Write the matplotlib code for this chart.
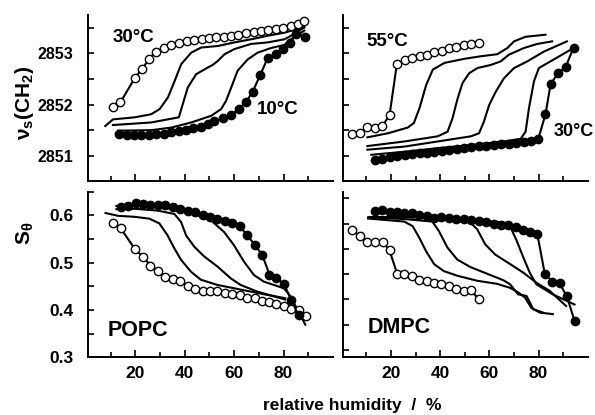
import matplotlib.pyplot as plt
import numpy as np

plt.rcParams['font.family'] = ['Liberation Sans', 'DejaVu Sans']
plt.rcParams['font.weight'] = 'bold'
plt.rcParams['mathtext.fontset'] = 'custom'
plt.rcParams['mathtext.rm'] = 'Liberation Sans:bold'
plt.rcParams['mathtext.it'] = 'Liberation Sans:bold'
plt.rcParams['mathtext.bf'] = 'Liberation Sans:bold'

# ---- POPC, CH2 stretching frequency ----
popc_nu_open_x = [10.9, 13.9, 19.7, 22.8, 25.5, 28.2, 31.4, 34.5, 37.6, 40.8, 43.9, 46.9, 49.7,
                  52.7, 55.7, 58.8, 61.7, 64.8, 67.9, 70.9, 73.8, 76.9, 79.9, 83.0, 85.7, 88.4]
popc_nu_open_y = [2851.95, 2852.04, 2852.51, 2852.70, 2852.88, 2853.03, 2853.10, 2853.16, 2853.20,
                  2853.24, 2853.26, 2853.27, 2853.29, 2853.31, 2853.32, 2853.34, 2853.36, 2853.39,
                  2853.41, 2853.44, 2853.46, 2853.48, 2853.50, 2853.53, 2853.56, 2853.63]
popc_nu_full_x = [13.4, 16.4, 19.4, 22.4, 25.5, 28.4, 31.4, 34.4, 37.5, 40.5, 43.5, 46.6, 49.3,
                  52.0, 55.4, 58.8, 61.9, 64.8, 67.5, 70.5, 73.6, 76.9, 79.6, 82.6, 85.0, 88.8]
popc_nu_full_y = [2851.42, 2851.41, 2851.41, 2851.41, 2851.41, 2851.42, 2851.43, 2851.46, 2851.49,
                  2851.51, 2851.54, 2851.57, 2851.62, 2851.67, 2851.73, 2851.80, 2851.91, 2852.05,
                  2852.25, 2852.57, 2852.91, 2852.99, 2853.08, 2853.19, 2853.37, 2853.32]
popc_nu_l1_x = [7.8, 10.9, 19.7, 26.4, 29.8, 33.2, 35.9, 38.6, 42.6, 46.6, 53.4, 60.1, 66.8, 73.6, 80.3, 85.7, 88.4]
popc_nu_l1_y = [2851.58, 2851.71, 2851.75, 2851.81, 2851.91, 2852.14, 2852.46, 2852.79, 2853.01,
                2853.11, 2853.14, 2853.21, 2853.27, 2853.34, 2853.40, 2853.47, 2853.53]
popc_nu_l2_x = [10.9, 26.4, 37.6, 39.2, 41.2, 44.6, 49.3, 51.3, 53.4, 56.1, 60.1, 66.8, 73.6, 80.3, 82.3, 88.4]
popc_nu_l2_y = [2851.60, 2851.65, 2851.75, 2852.01, 2852.33, 2852.59, 2852.72, 2852.77, 2852.85,
                2852.98, 2853.08, 2853.18, 2853.21, 2853.27, 2853.32, 2853.50]
popc_nu_l3_x = [13.0, 26.4, 34.5, 42.6, 50.7, 54.7, 56.7, 58.8, 61.4, 65.5, 69.5, 74.9, 80.3, 83.0, 88.4]
popc_nu_l3_y = [2851.49, 2851.50, 2851.55, 2851.65, 2851.78, 2851.91, 2852.07, 2852.33, 2852.66,
                2852.88, 2853.01, 2853.10, 2853.16, 2853.27, 2853.44]

# ---- DMPC, CH2 stretching frequency ----
dmpc_nu_open_x = [4.2, 7.3, 10.4, 13.4, 16.5, 19.4, 22.4, 25.5, 28.5, 31.6, 34.5, 37.6, 40.6,
                  43.4, 46.4, 49.5, 52.5, 55.6]
dmpc_nu_open_y = [2851.42, 2851.45, 2851.56, 2851.54, 2851.58, 2851.79, 2852.79, 2852.87, 2852.90,
                  2852.94, 2852.97, 2853.02, 2853.05, 2853.10, 2853.12, 2853.15, 2853.17, 2853.19]
dmpc_nu_full_x = [13.4, 16.5, 19.4, 22.4, 25.5, 28.5, 31.6, 34.5, 37.6, 40.6, 43.7, 46.7, 49.8, 52.7,
                  55.8, 58.8, 61.9, 64.9, 68.0, 70.9, 74.0, 77.0, 79.8, 82.8, 84.9, 87.9, 91.0, 94.2]
dmpc_nu_full_y = [2850.92, 2850.94, 2850.97, 2850.99, 2851.01, 2851.03, 2851.05, 2851.06, 2851.08,
                  2851.10, 2851.12, 2851.14, 2851.16, 2851.17, 2851.19, 2851.20, 2851.21, 2851.23,
                  2851.24, 2851.25, 2851.27, 2851.28, 2851.32, 2851.81, 2852.40, 2852.61, 2852.73, 2853.11]
dmpc_nu_l1_x = [10.4, 18.8, 26.8, 29.3, 31.6, 34.3, 37.0, 41.7, 49.8, 56.5, 63.2, 67.3, 70.0, 74.7, 82.8]
dmpc_nu_l1_y = [2851.36, 2851.44, 2851.55, 2851.64, 2851.93, 2852.38, 2852.68, 2852.81, 2852.89,
                2852.94, 2852.98, 2853.10, 2853.23, 2853.32, 2853.36]
dmpc_nu_l2_x = [10.4, 25.5, 39.0, 43.0, 45.0, 47.1, 49.1, 51.8, 55.1, 60.5, 64.6, 67.9, 74.0, 79.4, 85.5]
dmpc_nu_l2_y = [2851.19, 2851.28, 2851.38, 2851.47, 2851.73, 2852.12, 2852.42, 2852.61, 2852.71,
                2852.77, 2852.84, 2852.97, 2853.10, 2853.18, 2853.23]
dmpc_nu_l3_x = [10.4, 25.5, 39.0, 52.5, 55.8, 57.8, 59.9, 62.6, 65.9, 70.0, 75.4, 82.1, 91.5]
dmpc_nu_l3_y = [2851.12, 2851.18, 2851.28, 2851.38, 2851.44, 2851.67, 2851.99, 2852.25, 2852.51,
                2852.71, 2852.84, 2853.03, 2853.23]
dmpc_nu_l4_x = [12.0, 25.5, 39.0, 52.5, 65.9, 72.7, 74.7, 76.1, 78.1, 80.1, 84.8, 94.2]
dmpc_nu_l4_y = [2851.02, 2851.08, 2851.15, 2851.21, 2851.28, 2851.33, 2851.47, 2851.93, 2852.45,
                2852.71, 2852.84, 2853.10]

# ---- POPC, order parameter ----
popc_s_open_x = [10.9, 14.0, 19.9, 23.0, 26.1, 29.1, 32.1, 35.1, 38.2, 41.1, 44.1, 47.2, 50.1,
                 53.2, 56.2, 59.3, 62.2, 65.3, 68.3, 71.3, 74.3, 77.1, 80.1, 83.0, 86.1, 89.1]
popc_s_open_y = [0.583, 0.573, 0.528, 0.513, 0.494, 0.483, 0.469, 0.465, 0.462, 0.450, 0.444, 0.441,
                 0.441, 0.441, 0.437, 0.434, 0.432, 0.425, 0.425, 0.420, 0.417, 0.413, 0.409, 0.402,
                 0.399, 0.388]
popc_s_full_x = [14.0, 17.0, 20.1, 23.0, 26.0, 29.1, 32.1, 35.1, 38.2, 41.1, 44.2, 47.2, 50.3,
                 53.2, 56.2, 59.3, 62.2, 65.3, 68.3, 71.3, 74.3, 77.1, 80.1, 83.0, 86.1]
popc_s_full_y = [0.617, 0.620, 0.627, 0.624, 0.622, 0.622, 0.623, 0.617, 0.614, 0.610, 0.607, 0.601,
                 0.597, 0.593, 0.588, 0.584, 0.577, 0.558, 0.538, 0.517, 0.475, 0.467, 0.456, 0.422,
                 0.389]
popc_s_l1_x = [7.9, 13.0, 19.7, 25.7, 29.7, 33.0, 35.8, 38.5, 42.5, 46.5, 53.2, 59.9, 66.6, 73.4, 80.7]
popc_s_l1_y = [0.605, 0.599, 0.597, 0.593, 0.583, 0.558, 0.530, 0.506, 0.481, 0.464, 0.453, 0.446,
               0.439, 0.432, 0.425]
popc_s_l2_x = [12.3, 19.7, 29.1, 35.8, 38.5, 40.5, 43.8, 47.9, 53.2, 58.6, 62.6, 69.3, 80.7]
popc_s_l2_y = [0.613, 0.614, 0.610, 0.603, 0.586, 0.558, 0.534, 0.513, 0.492, 0.467, 0.453, 0.439, 0.422]
popc_s_l3_x = [12.3, 19.7, 33.1, 43.8, 50.5, 55.9, 59.9, 64.0, 68.0, 72.0, 80.1, 82.8, 88.8]
popc_s_l3_y = [0.620, 0.621, 0.615, 0.603, 0.590, 0.565, 0.537, 0.502, 0.474, 0.460, 0.446, 0.429, 0.369]

# ---- DMPC, order parameter ----
dmpc_s_open_x = [4.2, 7.3, 10.4, 13.6, 16.7, 19.4, 22.5, 25.4, 28.4, 31.5, 34.6, 37.5, 40.5,
                 43.6, 46.6, 49.6, 52.7, 55.6]
dmpc_s_open_y = [0.587, 0.576, 0.564, 0.564, 0.564, 0.547, 0.501, 0.500, 0.497, 0.488, 0.487, 0.482,
                 0.480, 0.477, 0.471, 0.467, 0.468, 0.450]
dmpc_s_full_x = [13.4, 16.4, 19.4, 22.5, 25.4, 28.4, 31.5, 34.6, 37.5, 40.5, 43.6, 46.6, 49.6, 52.7,
                 55.6, 58.6, 61.7, 64.6, 67.7, 70.7, 73.8, 76.7, 79.5, 82.5, 85.6, 88.5, 91.5, 94.6]
dmpc_s_full_y = [0.624, 0.626, 0.622, 0.622, 0.620, 0.620, 0.617, 0.615, 0.612, 0.614, 0.612, 0.610,
                 0.610, 0.607, 0.605, 0.603, 0.600, 0.597, 0.597, 0.593, 0.587, 0.584, 0.579, 0.501,
                 0.485, 0.482, 0.456, 0.408]
dmpc_s_l1_x = [10.7, 25.4, 28.8, 31.5, 34.2, 37.5, 41.5, 46.9, 55.0, 63.0, 68.4, 71.7, 74.4, 77.1, 80.5, 85.8]
dmpc_s_l1_y = [0.610, 0.604, 0.595, 0.572, 0.546, 0.520, 0.506, 0.497, 0.487, 0.481, 0.473, 0.464,
               0.454, 0.433, 0.424, 0.421]
dmpc_s_l2_x = [10.7, 25.4, 36.8, 39.5, 42.9, 46.9, 52.3, 59.0, 65.7, 68.4, 71.7, 75.1, 77.8, 81.8]
dmpc_s_l2_y = [0.612, 0.609, 0.604, 0.585, 0.553, 0.529, 0.514, 0.501, 0.488, 0.480, 0.460, 0.457,
               0.431, 0.424]
dmpc_s_l3_x = [10.7, 32.1, 52.3, 55.0, 58.3, 62.3, 68.4, 73.8, 79.1, 84.5, 91.2]
dmpc_s_l3_y = [0.612, 0.612, 0.602, 0.589, 0.559, 0.539, 0.520, 0.503, 0.483, 0.467, 0.437]
dmpc_s_l4_x = [11.3, 38.9, 65.7, 68.4, 71.1, 73.8, 76.4, 79.1, 85.8, 94.6]
dmpc_s_l4_y = [0.613, 0.613, 0.602, 0.595, 0.566, 0.533, 0.503, 0.480, 0.460, 0.440]

fig = plt.figure(figsize=(5.95, 4.15), dpi=100)
ax_tl = fig.add_axes([0.1487, 0.5627, 0.4109, 0.4019])
ax_tr = fig.add_axes([0.5765, 0.5627, 0.4114, 0.4019])
ax_bl = fig.add_axes([0.1487, 0.1390, 0.4109, 0.3990])
ax_br = fig.add_axes([0.5765, 0.1390, 0.4114, 0.3990])


def draw_panel(ax, lines, open_xy, full_xy):
    for lx, ly in lines:
        ax.plot(lx, ly, color='black', lw=1.5)
    ax.plot(open_xy[0], open_xy[1], color='black', lw=1.5, marker='o', ms=6,
            mfc='white', mec='black', mew=1.0)
    ax.plot(full_xy[0], full_xy[1], color='black', lw=1.5, marker='o', ms=6,
            mfc='black', mec='black', mew=1.0)


draw_panel(ax_tl, [(popc_nu_l1_x, popc_nu_l1_y), (popc_nu_l2_x, popc_nu_l2_y), (popc_nu_l3_x, popc_nu_l3_y)],
           (popc_nu_open_x, popc_nu_open_y), (popc_nu_full_x, popc_nu_full_y))
draw_panel(ax_tr, [(dmpc_nu_l1_x, dmpc_nu_l1_y), (dmpc_nu_l2_x, dmpc_nu_l2_y), (dmpc_nu_l3_x, dmpc_nu_l3_y),
                   (dmpc_nu_l4_x, dmpc_nu_l4_y)],
           (dmpc_nu_open_x, dmpc_nu_open_y), (dmpc_nu_full_x, dmpc_nu_full_y))
draw_panel(ax_bl, [(popc_s_l1_x, popc_s_l1_y), (popc_s_l2_x, popc_s_l2_y), (popc_s_l3_x, popc_s_l3_y)],
           (popc_s_open_x, popc_s_open_y), (popc_s_full_x, popc_s_full_y))
draw_panel(ax_br, [(dmpc_s_l1_x, dmpc_s_l1_y), (dmpc_s_l2_x, dmpc_s_l2_y), (dmpc_s_l3_x, dmpc_s_l3_y),
                   (dmpc_s_l4_x, dmpc_s_l4_y)],
           (dmpc_s_open_x, dmpc_s_open_y), (dmpc_s_full_x, dmpc_s_full_y))

# axes limits (left column starts a bit later than right one)
ax_tl.set_xlim(1, 100)
ax_bl.set_xlim(1, 100)
ax_tr.set_xlim(0.5, 100)
ax_br.set_xlim(0.5, 100)
ax_tl.set_ylim(2850.5, 2853.75)
ax_tr.set_ylim(2850.5, 2853.75)
ax_bl.set_ylim(0.3, 0.65)
ax_br.set_ylim(0.3356, 0.663)

for ax in [ax_tl, ax_tr, ax_bl, ax_br]:
    ax.spines['top'].set_visible(False)
    ax.spines['right'].set_visible(False)
    ax.spines['left'].set_linewidth(1.4)
    ax.spines['bottom'].set_linewidth(1.4)
    ax.set_xticks([20, 40, 60, 80])
    ax.set_xticks([10, 30, 50, 70, 90], minor=True)
    ax.tick_params(which='major', direction='in', length=5, width=1.2, labelsize=12.5, pad=6)
    ax.tick_params(which='minor', direction='in', length=3.5, width=1.2)
    ax.tick_params(axis='y', which='major', length=4)
    ax.tick_params(axis='y', which='minor', length=4)

for ax in [ax_tl, ax_tr]:
    ax.set_yticks([2851, 2852, 2853])
    ax.set_yticks([2851.5, 2852.5, 2853.5], minor=True)
    ax.tick_params(axis='x', labelbottom=False)
ax_tl.tick_params(axis='y', labelsize=11.5, pad=11)

ax_bl.set_yticks([0.3, 0.4, 0.5, 0.6])
ax_bl.set_yticks([0.35, 0.45, 0.55, 0.65], minor=True)
ax_bl.set_yticklabels(['0.3', '0.4', '0.5', '0.6'])
ax_bl.tick_params(axis='y', labelsize=12.5, pad=11)
ax_br.set_yticks([0.35, 0.4, 0.45, 0.5, 0.55, 0.6, 0.65])

ax_tr.tick_params(axis='y', labelleft=False)
ax_br.tick_params(axis='y', labelleft=False)

for ax in [ax_bl, ax_br]:
    for lab in ax.get_xticklabels():
        lab.set_fontweight('bold')

# panel annotations
ax_tl.text(10.9, 2853.3, '30°C', fontsize=13.5, fontweight='bold', va='center')
ax_tl.text(69.2, 2851.9, '10°C', fontsize=13.5, fontweight='bold', va='center')
ax_tr.text(9.9, 2853.22, '55°C', fontsize=13.5, fontweight='bold', va='center')
ax_tr.text(86, 2851.47, '30°C', fontsize=13, fontweight='bold', va='center')
ax_bl.text(8.6, 0.356, 'POPC', fontsize=15.5, fontweight='bold', va='center')
ax_br.text(10.4, 0.395, 'DMPC', fontsize=15.5, fontweight='bold', va='center')

fig.text(25 / 595, 1 - 103 / 415, 'ν$_{s}$(CH$_{2}$)', rotation=90, fontsize=15,
         fontweight='bold', ha='center', va='center')
fig.text(25 / 595, 1 - 233 / 415, 'S$_{θ}$', rotation=90, fontsize=15,
         fontweight='bold', ha='center', va='center')
fig.text(352 / 595, 1 - 405 / 415, 'relative humidity  /  %', fontsize=12.5,
         fontweight='bold', ha='center', va='center')

fig.savefig('out.png', dpi=100)
